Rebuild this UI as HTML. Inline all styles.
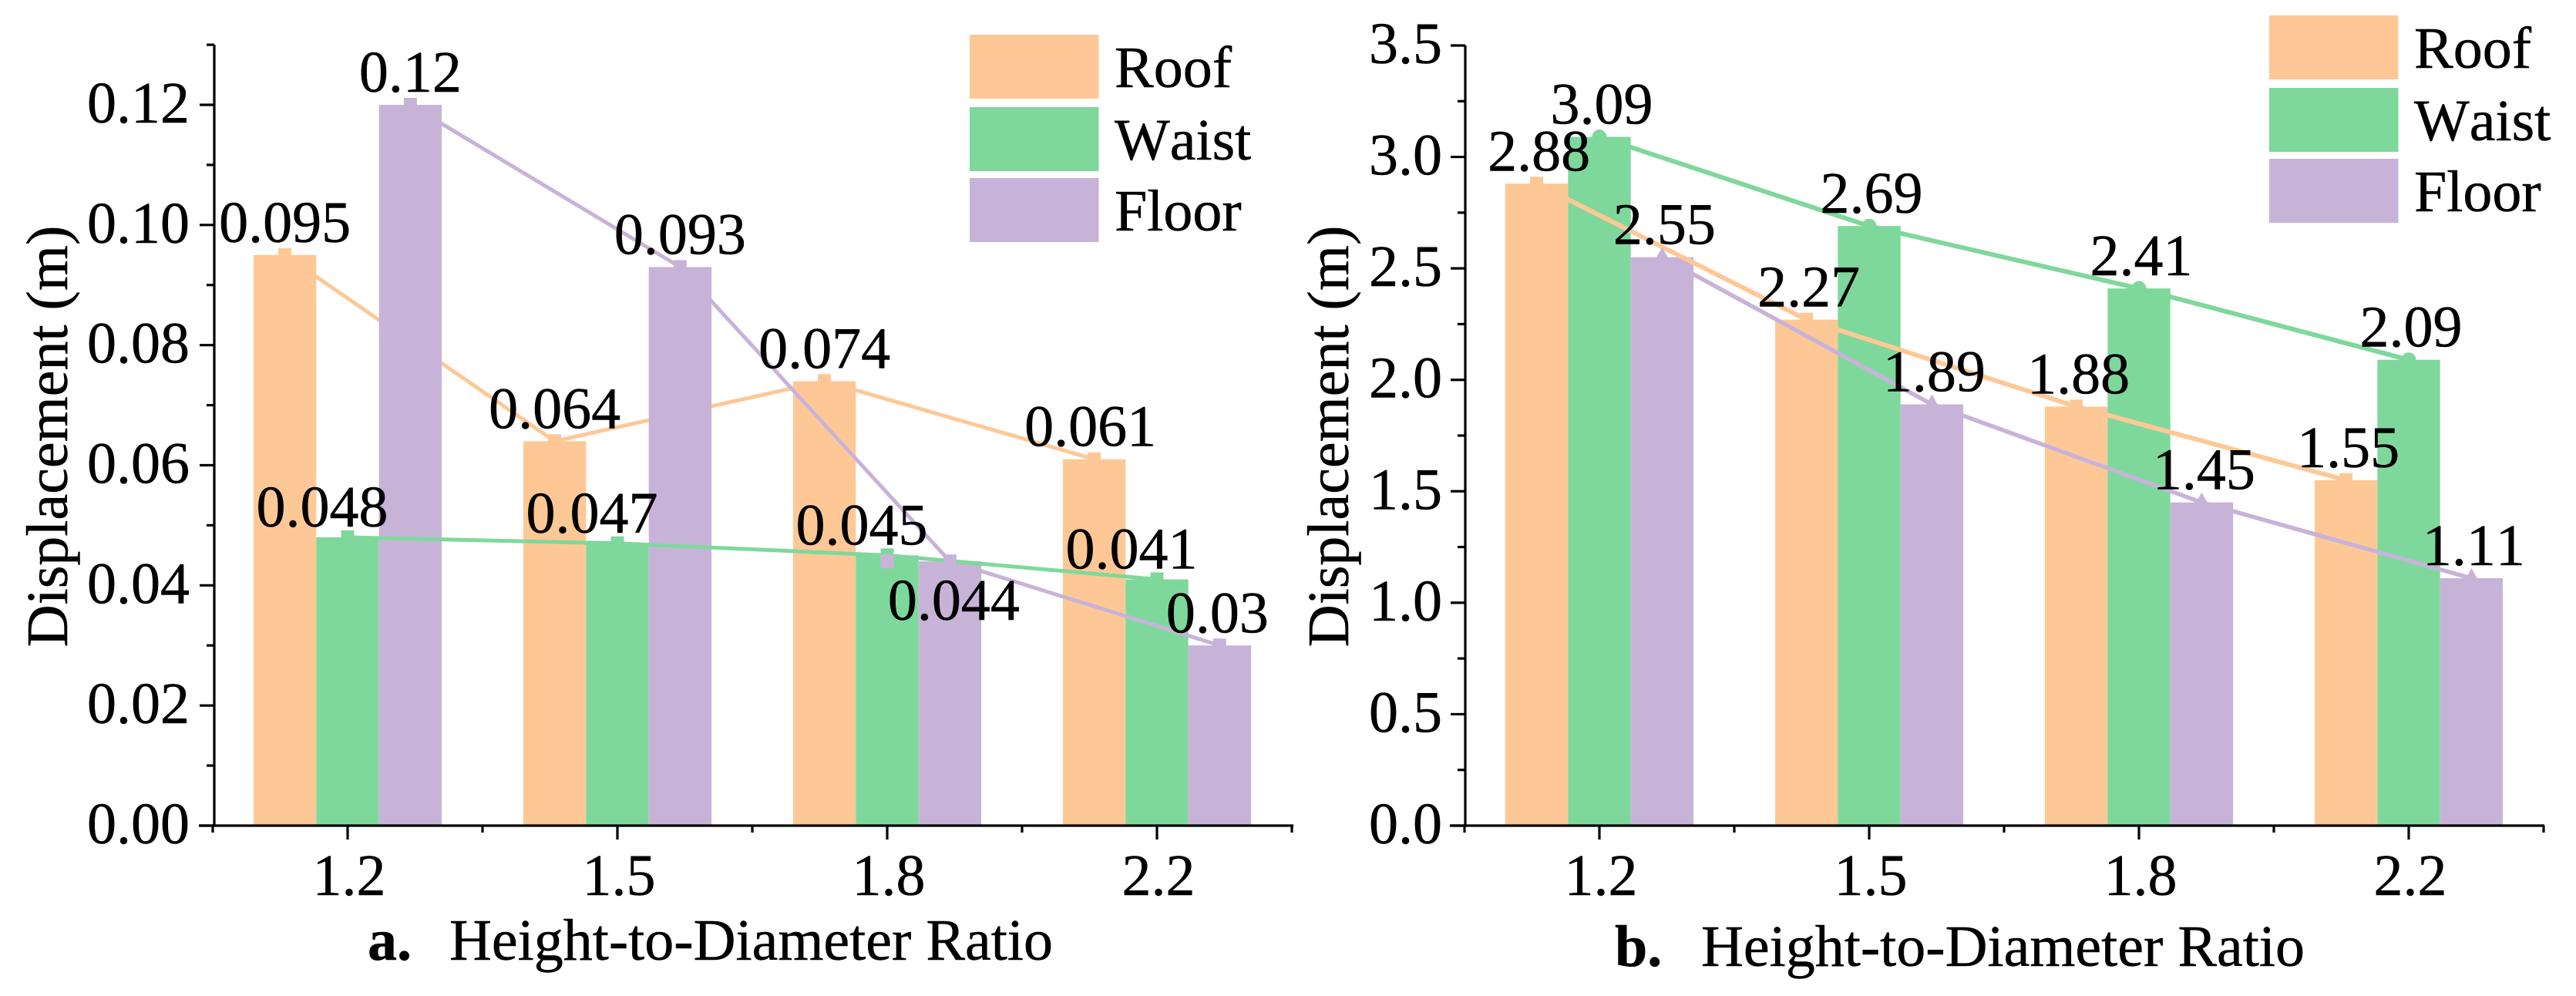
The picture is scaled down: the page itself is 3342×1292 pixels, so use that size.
<!DOCTYPE html>
<html lang="en">
<head>
<meta charset="utf-8">
<title>Displacement vs Height-to-Diameter Ratio</title>
<style>
html,body{margin:0;padding:0;background:#fff;width:3342px;height:1292px;overflow:hidden}
svg{display:block}
text{font-family:"Liberation Serif",serif;font-size:76px;fill:#000;stroke:#000;stroke-width:0.5px;font-kerning:none;font-feature-settings:"kern" 0}
</style>
</head>
<body>
<svg id="chart" xmlns="http://www.w3.org/2000/svg" width="3342" height="1292" viewBox="0 0 3342 1292"></svg>
<script>
// Data — panel a
const categories = ['1.2', '1.5', '1.8', '2.2'];
const seriesNames = ['Roof', 'Waist', 'Floor'];
const roofA = [0.095, 0.064, 0.074, 0.061];
const waistA = [0.048, 0.047, 0.045, 0.041];
const floorA = [0.12, 0.093, 0.044, 0.03];
const yTicksA = ['0.00', '0.02', '0.04', '0.06', '0.08', '0.10', '0.12'];
// Data — panel b
const roofB = [2.88, 2.27, 1.88, 1.55];
const waistB = [3.09, 2.69, 2.41, 2.09];
const floorB = [2.55, 1.89, 1.45, 1.11];
const yTicksB = ['0.0', '0.5', '1.0', '1.5', '2.0', '2.5', '3.0', '3.5'];

const NS = 'http://www.w3.org/2000/svg';
const svg = document.getElementById('chart');
const COLORS = {Roof: '#fec896', Waist: '#7fd89b', Floor: '#c8b3d8'};

function make(parent, tag, attrs, content) {
  const node = document.createElementNS(NS, tag);
  for (const k in attrs) node.setAttribute(k, attrs[k]);
  if (content !== undefined) node.textContent = content;
  parent.appendChild(node);
  return node;
}

function drawPanel(p) {
  const xBand = i => p.x0 + p.band * i;
  const barLeft = (i, s) => xBand(i) + (s - 1.5) * p.barW;
  const xPoint = (i, s) => barLeft(i, s) + p.barW / 2;
  const yScale = v => p.y0 - (v / p.yMax) * p.plotH;
  const series = [p.roof, p.waist, p.floor];

  const g = make(svg, 'g', {});
  
  

  const drawLine = (s, width) => {
    const name = seriesNames[s].toLowerCase();
    const pts = series[s].map((v, i) => xPoint(i, s).toFixed(1) + ',' + yScale(v).toFixed(1)).join(' ');
    const line = make(g, 'polyline', {points: pts, fill: 'none', stroke: COLORS[seriesNames[s]], 'stroke-width': width});
    
    
  };

  // lines that sit beneath the bars
  if (p.id === 'a') drawLine(0, 5);

  // bars
  series.forEach((vals, s) => {
    vals.forEach((v, i) => {
      const r = make(g, 'rect', {x: barLeft(i, s), y: yScale(v), width: p.barW, height: p.y0 - yScale(v), fill: COLORS[seriesNames[s]]});
      
      
    });
  });

  // lines over the bars
  if (p.id === 'a') { drawLine(2, 5); drawLine(1, 5); }
  else { drawLine(2, 5.5); drawLine(0, 6); drawLine(1, 6); }

  // markers
  const drawMarker = (s, i, v, cx) => {
    const fill = COLORS[seriesNames[s]];
    const cy = yScale(v);
    let m;
    if (p.id === 'b' && s === 1) {
      m = make(g, 'circle', {cx: cx, cy: cy, r: 9.5, fill: fill});
    } else if (p.id === 'b' && s === 2) {
      m = make(g, 'polygon', {points: (cx - 9) + ',' + (cy + 3) + ' ' + cx + ',' + (cy - 13) + ' ' + (cx + 9) + ',' + (cy + 3), fill: fill});
    } else {
      m = make(g, 'rect', {x: cx - 8.5, y: cy - 9, width: 17, height: 18, fill: fill});
    }
    
    
  };
  series.forEach((vals, s) => vals.forEach((v, i) => drawMarker(s, i, v, xPoint(i, s))));
  // the floor value at 1.8 is also plotted on the waist bar in panel a
  if (p.id === 'a') drawMarker(2, 2, p.floor[2], xPoint(2, 1));

  // axes
  const axisAttrs = {stroke: '#000', 'stroke-width': 3.2, fill: 'none'};
  const yAxis = make(g, 'line', Object.assign({x1: p.axisX, x2: p.axisX, y1: yScale(p.yTop), y2: p.y0 + 1.5}, axisAttrs));
  
  
  const xAxis = make(g, 'line', Object.assign({x1: p.axisX - 20, x2: p.axisX + p.band * 4, y1: p.y0, y2: p.y0}, axisAttrs));
  
  

  // y ticks
  p.yTicks.forEach((label, i) => {
    const y = yScale(parseFloat(label));
    const t = make(g, 'line', Object.assign({x1: p.axisX - 19, x2: p.axisX, y1: y, y2: y}, axisAttrs));
    
    
    const tl = make(g, 'text', {x: p.yLabelX, y: y + 23, 'text-anchor': 'end'}, label);
    
    
  });
  for (let i = 0; p.yMinor * (2 * i + 1) <= p.yTop + 1e-9; i++) {
    const y = yScale(p.yMinor * (2 * i + 1));
    const t = make(g, 'line', Object.assign({x1: p.axisX - 10, x2: p.axisX, y1: y, y2: y}, axisAttrs));
    
    
  }

  // x ticks
  categories.forEach((c, i) => {
    const x = xBand(i);
    const t = make(g, 'line', Object.assign({x1: x, x2: x, y1: p.y0, y2: p.y0 + 18}, axisAttrs));
    
    
    const tl = make(g, 'text', {x: x + 2, y: p.y0 + 90, 'text-anchor': 'middle'}, c);
    
    
  });
  for (let i = 0; i <= 4; i++) {
    const x = xBand(i) - p.band / 2;
    const t = make(g, 'line', Object.assign({x1: x, x2: x, y1: p.y0, y2: p.y0 + 9}, axisAttrs));
    
    
  }

  // value labels
  series.forEach((vals, s) => vals.forEach((v, i) => {
    let dx = p.id === 'b' ? 3 : 0;
    let dy = -17;
    if (p.id === 'a' && s === 1) { dx = -33; dy = -14; }
    if (p.id === 'a' && s === 0 && i === 3) dx = -5;
    if (p.id === 'a' && s === 2 && i === 3) dx = -3;
    if (p.id === 'a' && s === 2 && i === 2) { dx = 5; dy = 76; }
    const l = make(g, 'text', {x: xPoint(i, s) + dx, y: yScale(v) + dy, 'text-anchor': 'middle'}, String(v));
    
    
  }));

  // y title
  const yt = make(g, 'text', {x: 0, y: 0, 'text-anchor': 'middle', transform: 'translate(' + p.titleX + ',566) rotate(-90)'}, 'Displacement (m)');
  
  

  // x title
  const bold = make(g, 'text', {x: p.capX, y: p.capY, 'font-weight': 'bold', style: 'font-weight:bold'}, p.id + '.');
  
  
  const xt = make(g, 'text', {x: p.xTitleX, y: p.capY}, 'Height-to-Diameter Ratio');
  
  

  // legend
  const lg = make(g, 'g', {});
  
  
  seriesNames.forEach((name, s) => {
    const sw = make(lg, 'rect', {x: p.legX, y: p.legY[s], width: 167.5, height: 83, fill: COLORS[name]});
    
    
    const lt = make(lg, 'text', {x: p.legX + 188, y: p.legY[s] + 68}, name);
    
    
  });
}

drawPanel({
  id: 'a', roof: roofA, waist: waistA, floor: floorA, yTicks: yTicksA,
  x0: 451, band: 350, barW: 81.4, axisX: 278, y0: 1071, plotH: 935, yMax: 0.12, yTop: 0.13, yMinor: 0.01,
  yLabelX: 246, titleX: 87, capX: 477, capY: 1245, xTitleX: 583,
  legX: 1258, legY: [45, 139, 231]
});
drawPanel({
  id: 'b', roof: roofB, waist: waistB, floor: floorB, yTicks: yTicksB,
  x0: 2075, band: 350, barW: 81.4, axisX: 1901, y0: 1071, plotH: 1012, yMax: 3.5, yTop: 3.5, yMinor: 0.25,
  yLabelX: 1871, titleX: 1749, capX: 2095, capY: 1253, xTitleX: 2207,
  legX: 2944, legY: [20, 114, 206]
});
</script>
</body>
</html>
